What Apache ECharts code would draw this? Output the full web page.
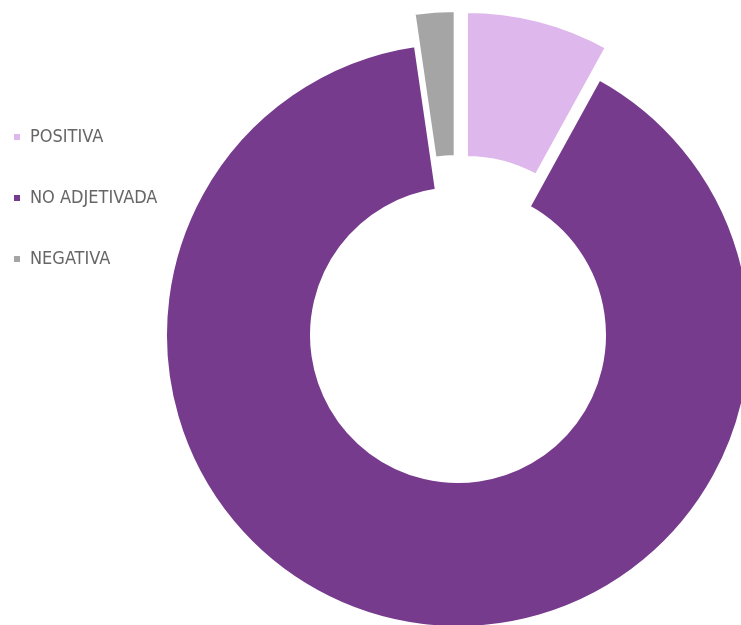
<!DOCTYPE html>
<html><head><meta charset="utf-8">
<script src="https://cdn.jsdelivr.net/npm/echarts@6/dist/echarts.min.js"></script>
<style>html,body{margin:0;padding:0;background:#fff}#c{width:741px;height:625px}</style>
</head><body><div id="c"></div>
<script>
const categories = ['POSITIVA', 'NO ADJETIVADA', 'NEGATIVA'];
const values = [8.0, 89.7, 2.3];
const colors = ['#DEB7EC', '#773B8D', '#A5A5A5'];
const exploded = [true, false, true];

const chart = echarts.init(document.getElementById('c'));
chart.setOption({
  animation: false,
  legend: {
    orient: 'vertical', left: 12, top: 127, padding: 0,
    icon: 'rect', itemWidth: 8, itemHeight: 8, itemGap: 41,
    textStyle: { fontFamily: '"Liberation Sans Narrow", "DejaVu Sans Condensed", sans-serif', fontSize: 18, lineHeight: 20, color: '#666666', padding: [0,0,0,4] },
    data: categories
  },
  series: [{
    type: 'pie',
    center: [458, 335],
    radius: [146, 293],
    startAngle: 90,
    clockwise: true,
    selectedMode: 'multiple',
    selectedOffset: 32,
    label: { show: false }, labelLine: { show: false },
    emphasis: { disabled: true },
    itemStyle: { borderColor: '#ffffff', borderWidth: 4 },
    data: categories.map((n, i) => ({ name: n, value: values[i], selected: exploded[i], itemStyle: { color: colors[i] } }))
  }]
});
</script></body></html>
